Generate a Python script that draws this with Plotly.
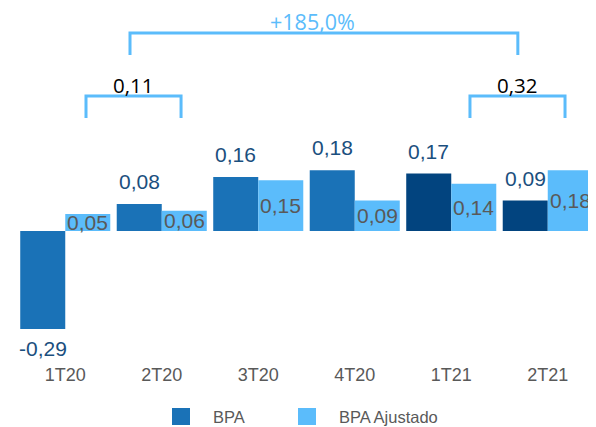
import plotly.graph_objects as go

categories = ["1T20", "2T20", "3T20", "4T20", "1T21", "2T21"]
bpa = [-0.29, 0.08, 0.16, 0.18, 0.17, 0.09]
bpa_ajustado = [0.05, 0.06, 0.15, 0.09, 0.14, 0.18]
bpa_colors = ["#1a72b7", "#1a72b7", "#1a72b7", "#1a72b7", "#02447f", "#02447f"]
sum_2020_label = "0,11"
sum_2021_label = "0,32"
growth_label = "+185,0%"

LIGHT = "#5bbcfb"
GRAY = "#595959"
LABEL_BLUE = "#1b4f7e"
FONT = "Liberation Sans, Arial, sans-serif"
FONT2 = "Open Sans, sans-serif"

def fmt(v):
    return f"{v:.2f}".replace(".", ",")

x_idx = list(range(len(categories)))

fig = go.Figure()
fig.add_trace(go.Bar(x=x_idx, y=bpa, name="BPA", marker=dict(color=bpa_colors, line=dict(width=0)),
                     showlegend=False, hoverinfo="x+y"))
fig.add_trace(go.Bar(x=x_idx, y=bpa_ajustado, name="BPA Ajustado", marker=dict(color=LIGHT, line=dict(width=0)),
                     showlegend=False, hoverinfo="x+y"))

bargap = 0.067
half = (1 - bargap) / 4  # offset of each bar centre from category centre

annotations = []
for i, v in enumerate(bpa):
    if v >= 0:
        annotations.append(dict(x=i - half, y=v, xref="x", yref="y", text=fmt(v), showarrow=False,
                                yanchor="bottom", yshift=9, font=dict(family=FONT, size=21, color=LABEL_BLUE)))
    else:
        annotations.append(dict(x=i - half, y=v, xref="x", yref="y", text=fmt(v), showarrow=False,
                                yanchor="top", yshift=-6, font=dict(family=FONT, size=21, color=LABEL_BLUE)))
for i, v in enumerate(bpa_ajustado):
    annotations.append(dict(x=i + half, y=v / 2, xref="x", yref="y", text=fmt(v), showarrow=False,
                            yanchor="middle", font=dict(family=FONT, size=21, color=GRAY)))

# page offset (browser body margin) and sizes
OFF = 8
W, H = 596 - OFF, 427 - OFF
ml, mr, mt, mb = 17 - OFF, 0, 0, 65
pw, ph = W - ml - mr, H - mt - mb

scale = 338.0
zero_px = 231 - OFF
ymax = zero_px / scale
ymin = -(ph - zero_px) / scale

def yv(ref_px):
    return (231 - ref_px) / scale

annotations.append(dict(x=0.70, y=yv(85), xref="x", yref="y", text=sum_2020_label, showarrow=False,
                        font=dict(family=FONT2, size=20.5, color="#000000")))
annotations.append(dict(x=4.68, y=yv(85), xref="x", yref="y", text=sum_2021_label, showarrow=False,
                        font=dict(family=FONT2, size=20.5, color="#000000")))
annotations.append(dict(x=2.56, y=yv(21), xref="x", yref="y", text=growth_label, showarrow=False,
                        borderpad=0, font=dict(family=FONT2, size=21.5, color=LIGHT)))

def bracket(x0, x1, ytop, ybot):
    return dict(type="path", xref="x", yref="y",
                path=f"M {x0},{yv(ybot)} L {x0},{yv(ytop)} L {x1},{yv(ytop)} L {x1},{yv(ybot)}",
                line=dict(color=LIGHT, width=3))

shapes = [
    bracket(0.215, 1.20, 96, 118),
    bracket(4.194, 5.179, 96, 118),
    bracket(0.671, 4.69, 33, 55),
]

def px_to_paper(xp, yp):
    xp -= OFF
    yp -= OFF
    return (xp - ml) / pw, (H - mb - yp) / ph

for (x0p, x1p, col, label, tx) in [(172, 190, "#1a72b7", "BPA", 211), (298, 316, LIGHT, "BPA Ajustado", 337)]:
    a0 = px_to_paper(x0p, 408)
    a1 = px_to_paper(x1p, 425)
    shapes.append(dict(type="rect", xref="paper", yref="paper", x0=a0[0], x1=a1[0], y0=a1[1], y1=a0[1],
                       fillcolor=col, line=dict(width=0)))
    t = px_to_paper(tx, 416.5)
    annotations.append(dict(x=t[0], y=t[1], xref="paper", yref="paper", text=label, showarrow=False,
                            xanchor="left", yanchor="middle", font=dict(family=FONT, size=16.5, color=GRAY)))

fig.update_layout(
    width=W, height=H,
    margin=dict(l=ml, r=mr, t=mt, b=mb),
    paper_bgcolor="white", plot_bgcolor="white",
    barmode="group", bargap=bargap, bargroupgap=0,
    annotations=annotations, shapes=shapes,
    showlegend=False,
    xaxis=dict(tickmode="array", tickvals=x_idx, ticktext=categories, range=[-0.5, 5.5],
               showgrid=False, zeroline=False, showline=False, ticks="",
               tickfont=dict(family=FONT, size=18, color=GRAY)),
    yaxis=dict(range=[ymin, ymax], visible=False, showgrid=False, zeroline=False),
)

fig.write_html("out.html")
